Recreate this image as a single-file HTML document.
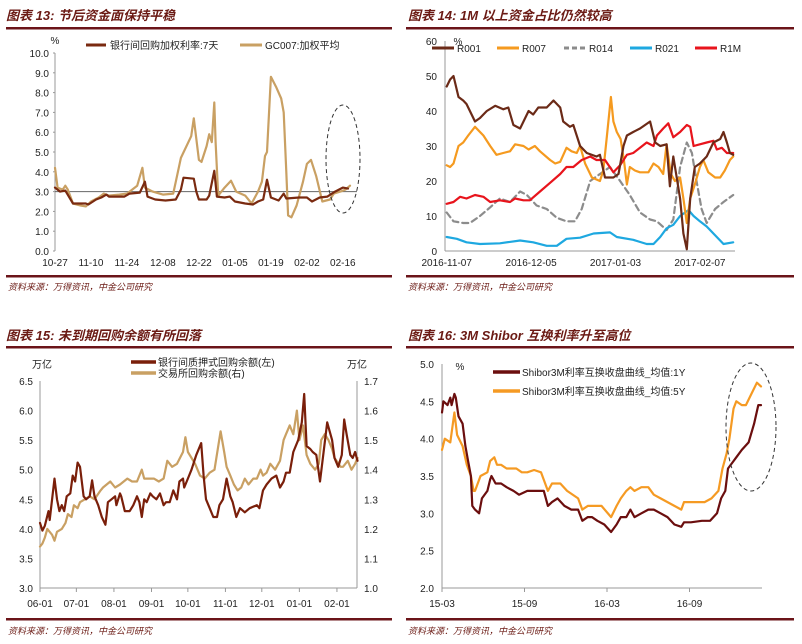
<!DOCTYPE html>
<html><head><meta charset="utf-8"><style>
html,body{margin:0;padding:0;background:#fff;}
svg{display:block;font-family:"Liberation Sans","Noto Sans CJK SC",sans-serif;}
.t{font-size:13px;font-style:italic;font-weight:bold;fill:#6b1a14;}
.src{font-size:9px;font-style:italic;fill:#6b1a14;}
.tk{font-size:10px;fill:#222;}
.lg{font-size:10px;fill:#222;}
</style></head><body>
<svg id="s" width="802" height="644" viewBox="0 0 802 644">
<g>
<text class="t" x="6" y="20">图表 13: 节后资金面保持平稳</text>
<rect x="6" y="27" width="386" height="2.5" fill="#6b1419"/>
<rect x="6" y="275" width="386" height="2.5" fill="#6b1419"/>
<text class="src" x="8" y="290">资料来源：万得资讯，中金公司研究</text>
</g>
<g>
<text class="t" x="408" y="20">图表 14: 1M 以上资金占比仍然较高</text>
<rect x="406" y="27" width="388" height="2.5" fill="#6b1419"/>
<rect x="406" y="275" width="388" height="2.5" fill="#6b1419"/>
<text class="src" x="408" y="290">资料来源：万得资讯，中金公司研究</text>
</g>
<g>
<text class="t" x="6" y="340">图表 15: 未到期回购余额有所回落</text>
<rect x="6" y="346" width="386" height="2.5" fill="#6b1419"/>
<rect x="6" y="618" width="386" height="2.5" fill="#6b1419"/>
<text class="src" x="8" y="634">资料来源：万得资讯，中金公司研究</text>
</g>
<g>
<text class="t" x="408" y="340">图表 16: 3M Shibor 互换利率升至高位</text>
<rect x="406" y="346" width="388" height="2.5" fill="#6b1419"/>
<rect x="406" y="618" width="388" height="2.5" fill="#6b1419"/>
<text class="src" x="408" y="634">资料来源：万得资讯，中金公司研究</text>
</g>
</svg>
<script>
// ---- Chart 13 data ----
const c13Ticks = ["0.0","1.0","2.0","3.0","4.0","5.0","6.0","7.0","8.0","9.0","10.0"];
const c13XLabels = ["10-27","11-10","11-24","12-08","12-22","01-05","01-19","02-02","02-16"];
const c13XLabelDays = [0,14,28,42,56,70,84,98,112];
const c13BankDays = [0,2,4,7,12,13,16,18,20,21,27,29,33,35,36,39,43,47,49,50,54,55,56,59,60,62,63,66,68,70,74,77,79,81,82.5,84,87,89,90,95,98,100,103,106,109,112,114];
const c13Bank = [3.2,3.0,3.05,2.4,2.4,2.35,2.6,2.7,2.85,2.75,2.75,2.9,2.95,3.5,2.75,2.6,2.55,2.6,3.1,3.7,3.65,3.0,2.6,2.6,2.8,4.05,2.75,2.7,2.75,2.5,2.4,2.35,2.5,2.6,3.6,2.7,2.55,2.9,2.65,2.7,2.7,2.5,2.7,2.75,3.0,3.2,3.15];
const c13GcDays = [0,1,3,4,5,7,10,12,14,17,19,21,25,28,32,34,35,38,42,46,47,49,53,54,56,57,59,60,61,62,62.5,63.5,66,68.5,70.5,74,76.5,79,80.5,81.7,82.5,84,86,88,89,90,90.7,92,94,96.5,98,99.6,101.6,104,107,108.5,111,113,114.8];
const c13Gc = [4.2,3.2,3.1,3.3,3.1,2.4,2.3,2.25,2.5,2.7,2.9,2.8,2.85,2.9,3.3,4.2,3.2,3.0,2.85,2.9,3.5,4.7,5.8,6.7,4.6,4.5,5.3,5.9,5.5,7.5,5.5,2.8,3.2,3.55,3.0,2.8,2.4,3.0,3.5,4.8,5.0,8.8,8.3,7.7,7.0,4.0,1.8,1.7,2.3,3.5,4.4,4.6,3.8,2.5,2.6,2.9,3.0,3.1,3.3];
// ---- Chart 14 data (trading-day index) ----
const c14Ticks = [0,10,20,30,40,50,60];
const c14XLabels = ["2016-11-07","2016-12-05","2017-01-03","2017-02-07"];
const c14XLabelIdx = [0,20,40,60];
const c14R001Idx = [0,0.8,1.6,2.8,3.9,4.7,6.7,7.9,9.5,11.5,13.4,14.6,15.8,17.4,19.4,20.5,21.7,23.7,25.3,26.9,27.6,29.2,30,31.6,33.2,35.5,36.3,37.5,39.5,40.7,41.9,42.7,44.2,45.8,48.2,49.4,50.6,52.1,52.9,53.7,55.3,56.1,56.9,57.7,58.8,60,61.6,63.2,64.8,65.6,66.4,67.1,67.9];
const c14R001 = [47,49,50,44,43,42,37,38,40,41.5,40.5,41,36,35,40,39,41,41,43,41,37,35.5,36,30,28,27,27.5,21,21,22,30,33,34,35,37,31,30,30.5,18.5,27,15,5,0.5,15,24,25,27,31,32,34,31,28,27.5];
const c14R007Idx = [0,0.8,1.6,2.8,3.9,5.1,6.7,8.7,10.3,11.8,13.4,15,16.2,18.2,19.4,20.9,22.1,24.5,25.7,26.9,28.4,29.6,30.8,31.6,32.8,34.4,36.3,37.1,37.9,38.9,39.5,40.3,41.2,42,42.7,43.4,44.6,45.8,47.8,49,50.2,51.3,52.1,53.1,54.1,55.3,56.1,56.9,57.7,58.8,60,60.8,62,63.6,64.8,65.9,67.1,67.9];
const c14R007 = [24.5,24,25,30,31,33,35.5,33,30,27.5,28,28.5,30.5,30,29,30,28.5,26,25,25.5,29.5,28.5,28,30,25,21,20,23,32,44,37,34,32,26,19,24,23,22.5,22.5,25,24,22,30.5,22,20,21,15,8,15,19,24,26,22.5,21,21,23,26,27];
const c14R014Idx = [0,1.6,3.9,5.5,7.9,10.3,12.6,15,17.4,19,21.3,23.7,26.1,28.4,30.4,32,34,36.3,38.7,41.1,43.4,45.8,48.2,49.8,52.1,53.7,55.3,56.9,58.1,59.2,60.4,61.6,63.6,65.6,67.9];
const c14R014 = [11,8.5,8,8,10,12.5,15,14,17,16,13,12,9.5,8.5,8.5,12,20,22,24,20,16,11,9,8.5,6,9,24,31,28,20,12,8,12,14,16];
const c14R021Idx = [0,2.4,4.7,7.9,12.6,17.4,20.5,23.7,26.1,28.4,31.6,34.8,38.7,40.3,44.2,47.4,49,50.6,52.1,53.7,55.3,57.3,58.5,60,61.6,63.6,65.6,67.9];
const c14R021 = [4,3.5,2.5,2,2.2,3,2.5,1.5,1.5,3.5,3.8,5,5.3,4,3.2,2,2,4,6.5,7.5,10,11.7,10,8.5,7,4.5,2,2.5];
const c14R1MIdx = [0,1.6,3.2,4.7,6.7,8.7,10.3,12.6,15,16.2,18.2,19.7,22.1,24.5,26.9,28.4,30,32,34,35.5,37.5,39.5,41.1,42.7,44.2,45.8,47.4,49,49.8,51.3,52.5,53.7,55.3,56.9,57.7,58.5,60,61.6,63.2,64,65.2,66.4,67.9];
const c14R1M = [13.5,14,15.5,15,16,15.5,14,14.5,14,15,14.5,14.5,17,19.5,22,24,24,26,27,26,26,22.5,24.5,27.5,28,29.5,31,30,33,35,36.5,32.5,34,36,35.5,30,30.5,31,31.5,29,29.5,28,28];
// ---- Chart 15 data (days from 06-01) ----
const c15LeftTicks = ["3.0","3.5","4.0","4.5","5.0","5.5","6.0","6.5"];
const c15RightTicks = ["1.0","1.1","1.2","1.3","1.4","1.5","1.6","1.7"];
const c15XLabels = ["06-01","07-01","08-01","09-01","10-01","11-01","12-01","01-01","02-01"];
const c15XLabelDays = [0,30,61,92,122,153,183,214,245];
const c15BankDays = [0,2,4,7,8,10,12,14,16,18,20,22,25,27,29,31,33,36,38,41,43,45,48,51,54,55,56,59,62,63,66,67,70,74,77,80,82,84,86,88,91,93,96,99,102,104,107,110,113,115,118,119,121,125,129,133,135,137,140,143,146,148,151,154,157,159,162,165,169,173,179,181,184,187,191,195,198,201,203,206,209,213,216,218,220,223,225,228,231,234,237,241,243,246,249,251,253,256,258,260,262];
const c15Bank = [4.1,3.97,4.05,4.3,4.15,4.5,4.85,4.5,4.3,4.4,4.3,4.55,4.6,4.9,4.8,5.12,5.05,4.55,4.5,4.55,4.82,4.55,4.4,4.2,4.07,4.25,4.45,4.5,4.55,4.4,4.6,4.55,4.3,4.3,4.4,4.55,4.45,4.2,4.5,4.45,4.6,4.55,4.5,4.6,4.4,4.45,4.45,4.65,4.5,4.8,4.85,4.7,4.8,5.0,5.25,5.45,4.9,4.5,4.35,4.2,4.2,4.4,4.5,4.85,4.55,4.45,4.2,4.35,4.28,4.35,4.4,4.35,4.65,4.75,4.85,4.9,4.7,4.8,4.95,4.95,5.3,5.5,5.8,6.28,5.4,5.35,5.3,5.25,4.8,5.3,5.8,5.5,5.2,5.05,5.25,5.85,5.6,5.25,5.2,5.3,5.15];
const c15ExchDays = [0,2,4,6,10,12,14,18,21,23,26,28,31,33,37,41,45,50,52,58,62,66,72,76,80,84,86,89,94,98,102,105,109,113,118,120,122,128,132,136,140,144,149,152,154,157,160,163,166,169,172,176,179,182,184,187,190,194,198,201,203,206,209,212,214,217,220,223,227,230,232,235,238,241,243,248,250,254,257,260,262];
const c15Exch = [1.14,1.15,1.17,1.2,1.18,1.16,1.19,1.2,1.22,1.25,1.24,1.28,1.27,1.29,1.3,1.31,1.3,1.33,1.34,1.36,1.34,1.35,1.37,1.36,1.36,1.4,1.37,1.37,1.37,1.36,1.37,1.43,1.41,1.42,1.46,1.51,1.46,1.42,1.38,1.37,1.39,1.4,1.53,1.46,1.41,1.38,1.35,1.33,1.34,1.37,1.35,1.37,1.37,1.4,1.38,1.39,1.42,1.4,1.43,1.5,1.52,1.55,1.52,1.6,1.5,1.55,1.45,1.42,1.4,1.42,1.5,1.52,1.5,1.47,1.44,1.41,1.41,1.43,1.4,1.42,1.44];
// ---- Chart 16 data (months from 2015-03) ----
const c16Ticks = ["2.0","2.5","3.0","3.5","4.0","4.5","5.0"];
const c16XLabels = ["15-03","15-09","16-03","16-09"];
const c16XLabelMonths = [0,6,12,18];
const c16Y1Months = [0,0.1,0.4,0.6,0.7,0.9,1,1.2,1.5,1.7,1.9,2.1,2.2,2.4,2.7,2.9,3.3,3.5,3.6,3.9,4.3,4.7,5.2,5.6,6.2,6.7,7.4,7.7,8,8.4,8.9,9.4,9.9,10.2,10.6,10.9,11.3,11.8,12.3,12.7,13,13.4,13.7,14,14.5,15,15.4,15.9,16.4,16.9,17.4,17.6,18.1,18.9,19.5,20,20.3,20.6,20.8,21.2,21.4,21.8,22.3,22.7,23,23.2];
const c16Y1 = [4.35,4.5,4.45,4.55,4.45,4.6,4.55,4.3,4.2,3.9,3.7,3.5,3.1,3.05,3.0,3.2,3.3,3.45,3.5,3.4,3.4,3.35,3.3,3.25,3.3,3.3,3.3,3.1,3.15,3.2,3.1,3.05,3.05,2.9,2.95,2.95,2.9,2.85,2.75,2.85,2.95,2.95,3.05,2.95,3.0,3.05,3.05,3.0,2.95,2.85,2.82,2.88,2.88,2.9,2.9,3.0,3.2,3.3,3.6,3.7,3.75,3.85,3.95,4.2,4.45,4.45];
const c16Y5Months = [0,0.2,0.6,0.9,1.1,1.5,1.8,2.1,2.3,2.4,2.8,3.3,3.5,3.8,4,4.3,4.7,5.4,5.8,6.2,6.7,7.2,7.7,8,8.6,9.1,9.9,10.2,10.6,11.1,11.6,12.3,12.7,13,13.4,13.7,14,14.5,15,15.4,15.9,16.4,16.9,17.4,17.6,18.4,19.1,19.6,20.1,20.4,20.7,20.9,21.2,21.4,21.8,22.1,22.5,22.9,23.2];
const c16Y5 = [3.85,4.0,3.95,4.35,4.05,3.9,3.65,3.5,3.3,3.3,3.5,3.55,3.7,3.75,3.65,3.65,3.6,3.6,3.55,3.55,3.58,3.55,3.3,3.4,3.4,3.3,3.2,3.05,3.1,3.1,3.1,2.95,3.1,3.2,3.3,3.35,3.3,3.35,3.35,3.25,3.2,3.15,3.1,3.05,3.15,3.15,3.15,3.2,3.3,3.6,3.8,4.0,4.4,4.5,4.45,4.45,4.6,4.75,4.7];

const NS = "http://www.w3.org/2000/svg";
const svg = document.getElementById('s');
function mk(tag, attrs, parent){const e=document.createElementNS(NS,tag);for(const k in attrs)e.setAttribute(k,attrs[k]);(parent||svg).appendChild(e);return e;}
function poly(xs, ys, sx, sy, color, w, dash, name){
  let d='';for(let i=0;i<xs.length;i++){d+=(i?'L':'M')+sx(xs[i]).toFixed(1)+','+sy(ys[i]).toFixed(1);}
  const p=mk('path',{d:d,fill:'none',stroke:color,'stroke-width':w,'stroke-linejoin':'round','stroke-linecap':'round'});
  if(dash)p.setAttribute('stroke-dasharray',dash);
  
  
  return p;
}
function txt(x,y,s,anchor,cls,name){const t=mk('text',{x:x,y:y,'text-anchor':anchor||'start','class':cls||'tk'});t.textContent=s;
  
  
  return t;}
function ln(x1,y1,x2,y2,c,w,name,dash){const l=mk('line',{x1:x1,y1:y1,x2:x2,y2:y2,stroke:c,'stroke-width':w||1});if(dash)l.setAttribute('stroke-dasharray',dash);
  
  
  return l;}
const AX='#999';

// ===== Chart 13 =====
(function(){
  const sx=d=>55+d*2.57, sy=v=>251-v*19.8;
  ln(55,53,55,251,AX,1,'y-axis-13');
  c13Ticks.forEach((t,i)=>{txt(49,sy(+t)+4,t,'end','tk','y-tick-13');ln(53,sy(+t),55,sy(+t),AX,1,'y-tick-mark-13');});
  c13XLabels.forEach((t,i)=>txt(sx(c13XLabelDays[i]),266,t,'middle','tk','x-tick-13'));
  txt(55,44,'%','middle','tk','y-unit-13');
  ln(55,sy(3),357,sy(3),'#666',1,'reference-line-3');
  poly(c13GcDays,c13Gc,sx,sy,'#c9a063',2.2,null,'series-gc007');
  poly(c13BankDays,c13Bank,sx,sy,'#7a2a10',2.2,null,'series-interbank-7d');
  ln(86,45,106,45,'#7a2a10',3,'legend-swatch-interbank');
  txt(110,49,'银行间回购加权利率:7天','start','lg','legend-interbank');
  ln(240,45,262,45,'#c9a063',3,'legend-swatch-gc007');
  txt(265,49,'GC007:加权平均','start','lg','legend-gc007');
  const e=mk('ellipse',{cx:343,cy:159,rx:17,ry:54,fill:'none',stroke:'#333','stroke-width':1,'stroke-dasharray':'4,3'});
  
  
})();

// ===== Chart 14 =====
(function(){
  const sx=i=>446.7+i*4.22, sy=v=>251-v*3.5;
  ln(445,41,445,251,AX,1,'y-axis-14');
  ln(445,251,735,251,AX,1,'x-axis-14');
  c14Ticks.forEach(t=>{txt(437,sy(t)+4,String(t),'end','tk','y-tick-14');});
  c14XLabels.forEach((t,i)=>txt(sx(c14XLabelIdx[i]),266,t,'middle','tk','x-tick-14'));
  txt(458,45,'%','middle','tk','y-unit-14');
  poly(c14R014Idx,c14R014,sx,sy,'#8c8c8c',2.2,'6,4','series-r014');
  poly(c14R021Idx,c14R021,sx,sy,'#1ea8e0',2.2,null,'series-r021');
  poly(c14R007Idx,c14R007,sx,sy,'#f59a1f',2.2,null,'series-r007');
  poly(c14R1MIdx,c14R1M,sx,sy,'#e8141c',2.2,null,'series-r1m');
  poly(c14R001Idx,c14R001,sx,sy,'#6b2a17',2.2,null,'series-r001');
  const L=[['R001','#6b2a17',432,null],['R007','#f59a1f',497,null],['R014','#8c8c8c',564,'5,3'],['R021','#1ea8e0',630,null],['R1M','#e8141c',695,null]];
  L.forEach(l=>{ln(l[2],48,l[2]+22,48,l[1],3,'legend-swatch-'+l[0].toLowerCase(),l[3]);txt(l[2]+25,52,l[0],'start','lg','legend-'+l[0].toLowerCase());});
})();

// ===== Chart 15 =====
(function(){
  const sx=d=>40+d*1.212, syL=v=>588-(v-3)*59.14, syR=v=>588-(v-1)*295.7;
  ln(40,381,40,588,AX,1,'left-axis-15');
  ln(357,381,357,588,AX,1,'right-axis-15');
  ln(40,588,357,588,AX,1,'x-axis-15');
  c15LeftTicks.forEach(t=>txt(33,syL(+t)+4,t,'end','tk','left-tick-15'));
  c15RightTicks.forEach(t=>txt(364,syR(+t)+4,t,'start','tk','right-tick-15'));
  c15XLabels.forEach((t,i)=>{txt(sx(c15XLabelDays[i]),607,t,'middle','tk','x-tick-15');ln(sx(c15XLabelDays[i]),588,sx(c15XLabelDays[i]),592,AX,1,'x-tick-mark-15');});
  txt(42,368,'万亿','middle','tk','left-unit-15');
  txt(357,368,'万亿','middle','tk','right-unit-15');
  poly(c15ExchDays,c15Exch,sx,syR,'#c9a063',2.2,null,'series-exchange-repo');
  poly(c15BankDays,c15Bank,sx,syL,'#7a1f0a',2.2,null,'series-interbank-repo');
  ln(131,362,156,362,'#7a1f0a',3.5,'legend-swatch-interbank-repo');
  txt(158,366,'银行间质押式回购余额(左)','start','lg','legend-interbank-repo');
  ln(131,373,156,373,'#c9a063',3.5,'legend-swatch-exchange-repo');
  txt(158,377,'交易所回购余额(右)','start','lg','legend-exchange-repo');
})();

// ===== Chart 16 =====
(function(){
  const sx=m=>442+m*13.75, sy=v=>588-(v-2)*74.67;
  ln(442,364,442,588,AX,1,'y-axis-16');
  ln(442,588,762,588,AX,1,'x-axis-16');
  c16Ticks.forEach(t=>txt(434,sy(+t)+4,t,'end','tk','y-tick-16'));
  c16XLabels.forEach((t,i)=>{txt(sx(c16XLabelMonths[i]),607,t,'middle','tk','x-tick-16');ln(sx(c16XLabelMonths[i]),588,sx(c16XLabelMonths[i]),592,AX,1,'x-tick-mark-16');});
  txt(460,370,'%','middle','tk','y-unit-16');
  poly(c16Y5Months,c16Y5,sx,sy,'#f59a23',2.2,null,'series-swap-5y');
  poly(c16Y1Months,c16Y1,sx,sy,'#6b0e0e',2.2,null,'series-swap-1y');
  ln(493,372,520,372,'#6b0e0e',3.5,'legend-swatch-1y');
  txt(522,376,'Shibor3M利率互换收盘曲线_均值:1Y','start','lg','legend-1y');
  ln(493,391,520,391,'#f59a23',3.5,'legend-swatch-5y');
  txt(522,395,'Shibor3M利率互换收盘曲线_均值:5Y','start','lg','legend-5y');
  const e=mk('ellipse',{cx:751,cy:427,rx:25,ry:64,fill:'none',stroke:'#333','stroke-width':1,'stroke-dasharray':'4,3'});
  
  
})();
</script>
</body></html>
